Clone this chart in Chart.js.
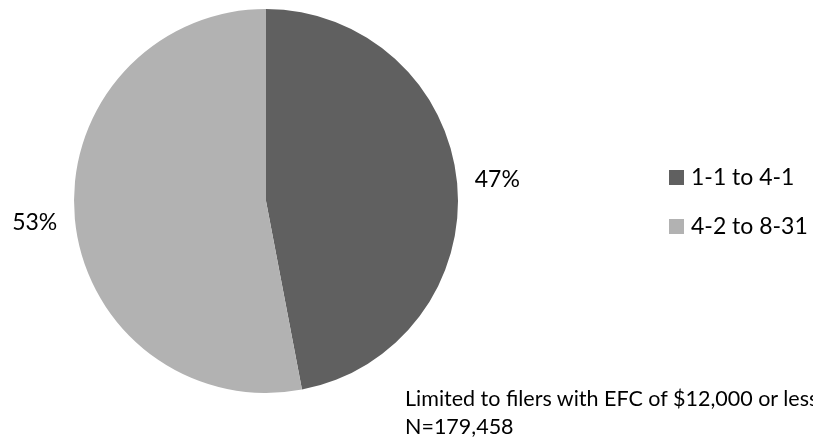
<!DOCTYPE html>
<html>
<head>
<meta charset="utf-8">
<script src="https://cdn.jsdelivr.net/npm/chart.js@4"></script>
<style>
    html, body { margin: 0; padding: 0; background: #fff; }
    #wrap { position: relative; width: 813px; height: 445px; overflow: hidden; font-family: Lato, "Open Sans", sans-serif; color: #000; }
    #chartCanvas { position: absolute; left: 0; top: 0; }
    .legend-item { position: absolute; left: 669px; font-size: 23px; white-space: nowrap; line-height: 24px; }
    .legend-item span.box { display: inline-block; width: 15px; height: 15px; margin-right: 7px; vertical-align: 0px; }
    #note { position: absolute; left: 405px; top: 384px; font-size: 21.5px; line-height: 28px; white-space: nowrap; }
</style>
</head>
<body>
<div id="wrap">
    <canvas id="chartCanvas" width="813" height="445"></canvas>
    <div id="legend"></div>
    <div id="note">Limited to filers with EFC of $12,000 or less<br>N=179,458</div>
</div>
<script>
const categories = ["1-1 to 4-1", "4-2 to 8-31"];
const shares = [47, 53];
const sliceColors = ["#606060", "#b2b2b2"];

// Draw the percent labels outside each slice
const outsideLabels = {
    id: "outsideLabels",
    afterDatasetsDraw(chart) {
        const ctx = chart.ctx;
        const meta = chart.getDatasetMeta(0);
        ctx.save();
        ctx.font = "23px Lato, 'Open Sans', sans-serif";
        ctx.fillStyle = "#000";
        ctx.textAlign = "center";
        ctx.textBaseline = "middle";
        meta.data.forEach((arc, i) => {
            const mid = (arc.startAngle + arc.endAngle) / 2;
            const r = arc.outerRadius * 1.21;
            ctx.fillText(shares[i] + "%", arc.x + Math.cos(mid) * r, arc.y + Math.sin(mid) * r);
        });
        ctx.restore();
    }
};

new Chart(document.getElementById("chartCanvas"), {
    type: "pie",
    data: {
        labels: categories,
        datasets: [{
            data: shares,
            backgroundColor: sliceColors,
            borderWidth: 0
        }]
    },
    options: {
        responsive: false,
        animation: false,
        layout: { padding: { left: 73, right: 354, top: 9, bottom: 52 } },
        plugins: {
            legend: { display: false },
            tooltip: { enabled: false }
        }
    },
    plugins: [outsideLabels]
});

// Legend on the right
const legend = document.getElementById("legend");
const legendTops = [164, 213];
categories.forEach((name, i) => {
    const item = document.createElement("div");
    item.className = "legend-item";
    item.style.top = legendTops[i] + "px";
    item.innerHTML = `<span class="box" style="background:${sliceColors[i]}"></span>${name}`;
    legend.appendChild(item);
});
</script>
</body>
</html>
